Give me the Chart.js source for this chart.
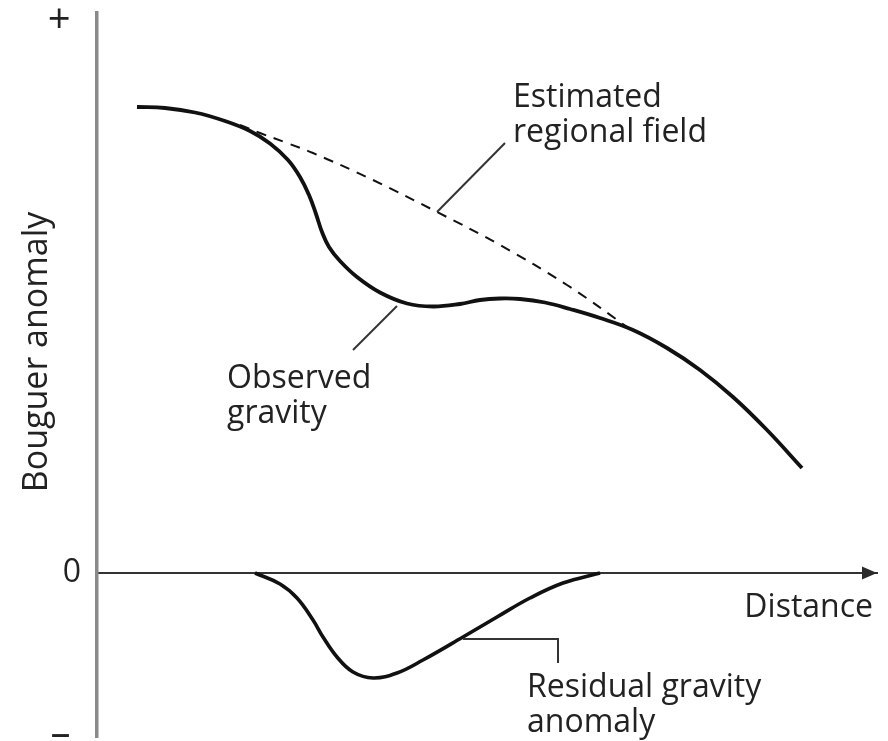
<!DOCTYPE html>
<html><head><meta charset="utf-8">
<script src="https://cdn.jsdelivr.net/npm/chart.js@4"></script>
<style>html,body{margin:0;padding:0;background:#fff}#wrap{width:888px;height:741px;position:relative}</style>
</head><body><div id="wrap"><canvas id="c"></canvas></div>
<script>
// Observed gravity (distance, anomaly) in arbitrary units
const observedX = [4.0, 6.8, 9.8, 12.8, 15.3, 17.3, 19.1, 20.3, 21.2, 21.9, 22.5, 23.2, 24.3, 26.0, 28.3, 31.0, 33.6, 36.3, 38.3, 40.3, 42.3, 44.8, 47.3, 50.3, 53.6, 57.0, 60.3, 63.6, 67.0, 70.5];
const observedY = [46.6, 46.5, 46.05, 45.2, 44.2, 42.95, 41.3, 39.6, 37.8, 35.9, 34.1, 32.6, 31.2, 29.6, 28.05, 26.95, 26.65, 26.9, 27.3, 27.45, 27.4, 27.05, 26.4, 25.5, 24.3, 22.5, 20.3, 17.6, 14.3, 10.5];
// Estimated regional field
const regionalX = [14.3, 16.3, 19.0, 21.6, 27.6, 34.0, 40.3, 47.0, 53.3];
const regionalY = [44.8, 44.0, 43.0, 42.0, 39.3, 36.1, 32.8, 28.8, 24.4];
// Residual gravity anomaly
const residualX = [15.8, 18.3, 20.0, 21.6, 22.6, 24.0, 25.6, 27.6, 30.0, 32.6, 36.6, 40.0, 43.3, 46.6, 50.3];
const residualY = [0, -1.1, -2.5, -4.7, -6.4, -8.4, -9.9, -10.5, -10.0, -8.7, -6.4, -4.4, -2.5, -1.0, 0];
// Axis ticks
const yTickValues = [55.1, 0, -16.2];
const yTickLabels = ['+ ', '0', '\u2013 '];
const xTitle = 'Distance';
const yTitle = 'Bouguer anomaly';
const labelObserved = ['Observed', 'gravity'];
const labelRegional = ['Estimated', 'regional field'];
const labelResidual = ['Residual gravity', 'anomaly'];

const toPts = (xs, ys) => xs.map((v, i) => ({x: v, y: ys[i]}));

const annotations = [
  {lines: labelRegional, at: [41.6, 46.6]},
  {lines: labelObserved, at: [13.0, 18.5]},
  {lines: labelResidual, at: [43.0, -12.4]},
  {lines: [xTitle], at: [77.6, -4.4], align: 'right'}
];
const leaders = [
  [[34.0, 36.1], [40.8, 43.0]],
  [[30.0, 26.7], [25.6, 22.3]],
  [[36.6, -6.6], [46.1, -6.6], [46.1, -9.0]]
];

const overlay = {
  id: 'overlay',
  afterDraw(chart) {
    const {ctx, scales: {x, y}} = chart;
    const px = v => x.getPixelForValue(v), py = v => y.getPixelForValue(v);
    ctx.save();
    const tip = x.right, ay = py(0);
    ctx.fillStyle = '#2a2a2a';
    ctx.beginPath();
    ctx.moveTo(tip, ay); ctx.lineTo(tip - 15, ay - 6.5); ctx.lineTo(tip - 15, ay + 6.5);
    ctx.closePath(); ctx.fill();
    ctx.strokeStyle = '#333'; ctx.lineWidth = 2;
    for (const l of leaders) {
      ctx.beginPath();
      l.forEach((p, i) => i ? ctx.lineTo(px(p[0]), py(p[1])) : ctx.moveTo(px(p[0]), py(p[1])));
      ctx.stroke();
    }
    ctx.fillStyle = '#222';
    ctx.font = '32px "Open Sans"';
    ctx.textBaseline = 'alphabetic';
    for (const t of annotations) {
      ctx.textAlign = t.align || 'left';
      t.lines.forEach((s, i) => ctx.fillText(s, px(t.at[0]), py(t.at[1]) + i * 35));
    }
    ctx.translate(px(-5.0), py(22.1));
    ctx.rotate(-Math.PI / 2);
    ctx.textAlign = 'center';
    ctx.font = '34px "Open Sans"';
    ctx.fillText(yTitle, 0, 0);
    ctx.restore();
  }
};

new Chart(document.getElementById('c'), {
  type: 'line',
  data: {
    datasets: [
      {data: toPts(observedX, observedY), borderColor: '#111', borderWidth: 3.8, tension: 0.4, pointRadius: 0},
      {data: toPts(regionalX, regionalY), borderColor: '#111', borderWidth: 2, borderDash: [10, 8], tension: 0.4, pointRadius: 0},
      {data: toPts(residualX, residualY), borderColor: '#111', borderWidth: 3.6, tension: 0.4, pointRadius: 0}
    ]
  },
  options: {
    responsive: true,
    maintainAspectRatio: false,
    animation: false,
    events: [],
    layout: {padding: {left: 0, top: 13, right: 11, bottom: 4}},
    plugins: {legend: {display: false}, tooltip: {enabled: false}},
    scales: {
      x: {
        type: 'linear', min: 0, max: 78, position: {y: 0},
        grid: {display: false, drawTicks: false},
        border: {display: true, color: '#333', width: 2},
        ticks: {display: false}
      },
      y: {
        type: 'linear', min: -16.4, max: 56, position: 'left',
        grid: {display: false, drawTicks: false},
        border: {display: true, color: '#8a8a8a', width: 3.5},
        afterBuildTicks: s => { s.ticks = yTickValues.map(v => ({value: v})); },
        afterFit: s => { s.width = 97; s.paddingTop = 0; s.paddingBottom = 0; },
        ticks: {
          padding: 16, color: '#222',
          font: ctx => ({family: '"Open Sans"', size: ctx.index === 1 ? 32 : 40, lineHeight: 1}),
          callback: (v, i) => yTickLabels[i]
        }
      }
    }
  },
  plugins: [overlay]
});
</script>
</body></html>
